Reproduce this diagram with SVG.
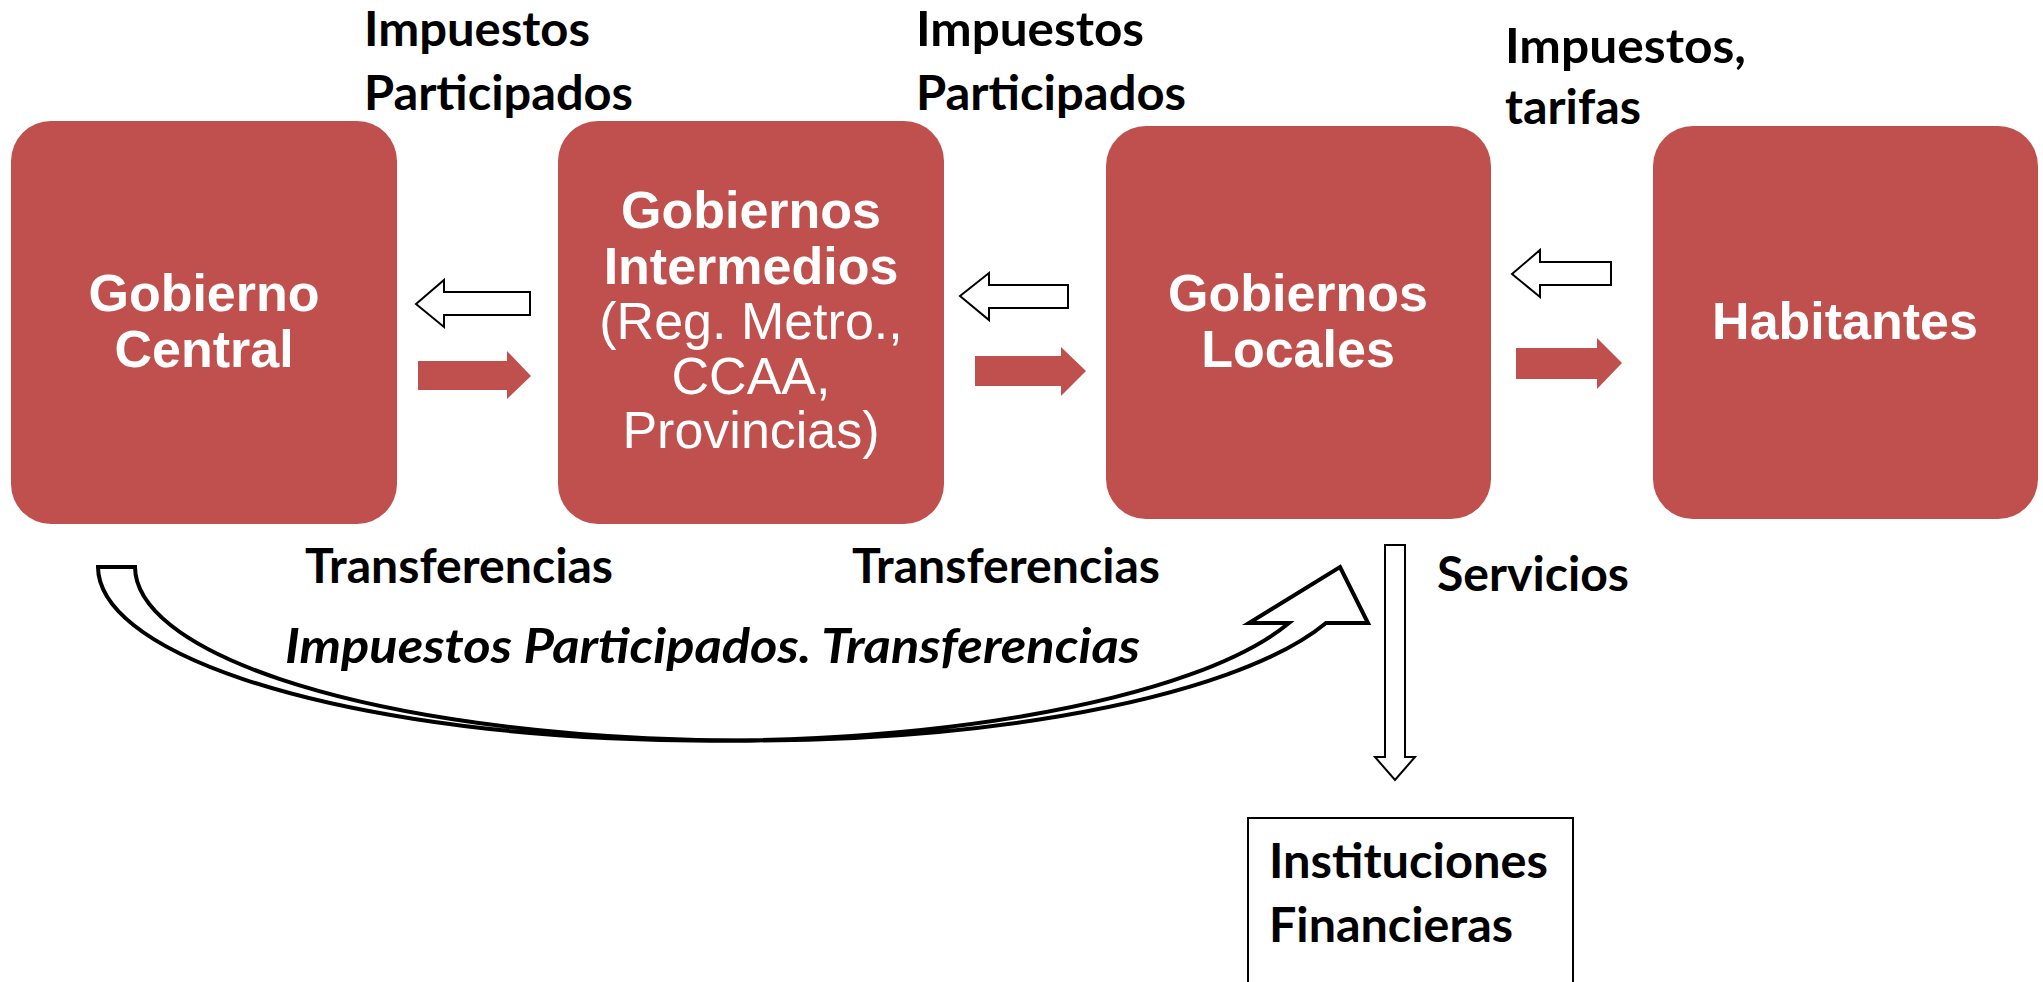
<svg xmlns="http://www.w3.org/2000/svg" width="2043" height="982" viewBox="0 0 2043 982">
<style>
.box{fill:#C0504D}
.bt{font-family:"Liberation Sans",Arial,sans-serif;font-size:52px;fill:#fff;text-anchor:middle}
.b{font-weight:bold}
.lbl{font-family:Lato,"Open Sans",sans-serif;font-weight:bold;font-size:47px;fill:#000}
.it{font-style:italic}
.hollow{fill:#fff;stroke:#000;stroke-width:2;stroke-linejoin:miter}
.solid{fill:#C0504D}
.curve{fill:#fff;stroke:#000;stroke-width:4;stroke-linejoin:miter}
</style>
<rect width="2043" height="982" fill="#fff"/>
<g id="gobierno-central">
<rect class="box" x="11" y="121" width="386" height="403" rx="40"/>
<text class="bt b" x="204" y="311">Gobierno</text>
<text class="bt b" x="204" y="367">Central</text>
</g>
<g id="gobiernos-intermedios">
<rect class="box" x="558" y="121" width="386" height="403" rx="40"/>
<text class="bt b" x="751" y="228">Gobiernos</text>
<text class="bt b" x="751" y="284">Intermedios</text>
<text class="bt" x="751" y="339">(Reg. Metro.,</text>
<text class="bt" x="751" y="394">CCAA,</text>
<text class="bt" x="751" y="448">Provincias)</text>
</g>
<g id="gobiernos-locales">
<rect class="box" x="1106" y="126" width="385" height="393" rx="40"/>
<text class="bt b" x="1298" y="311">Gobiernos</text>
<text class="bt b" x="1298" y="367">Locales</text>
</g>
<g id="habitantes">
<rect class="box" x="1653" y="126" width="385" height="393" rx="40"/>
<text class="bt b" x="1845" y="339">Habitantes</text>
</g>
<g id="instituciones-financieras">
<rect x="1248" y="818" width="325" height="180" fill="#fff" stroke="#000" stroke-width="2"/>
<text class="lbl" x="1269" y="878" textLength="279" lengthAdjust="spacingAndGlyphs">Instituciones</text>
<text class="lbl" x="1269" y="942" textLength="244" lengthAdjust="spacingAndGlyphs">Financieras</text>
</g>
<g id="connectors">
<polygon class="hollow" points="416,304 444,280 444,292 530,292 530,315 444,315 444,327"/>
<polygon class="solid" points="418,361 507,361 507,351 531,376 507,399 507,390 418,390"/>
<polygon class="hollow" points="960,296 989,273 989,285 1068,285 1068,308 989,308 989,320"/>
<polygon class="solid" points="975,356 1061,356 1061,347 1086,371 1061,396 1061,386 975,386"/>
<polygon class="hollow" points="1512,274 1540,250 1540,262 1611,262 1611,285 1540,285 1540,297"/>
<polygon class="solid" points="1516,348 1597,348 1597,338 1622,363 1597,389 1597,379 1516,379"/>
<polygon class="hollow" points="1385,545 1405,545 1405,757 1415,757 1395,780 1375,757 1385,757"/>
<path class="curve" d="M1340,567 L1368,623 L1326,623 A612,174 0 0 1 135,567 L98,567 A612,174 0 0 0 1289,623 L1249,623 Z"/>
</g>
<g id="labels">
<text class="lbl" x="364" y="46" textLength="226" lengthAdjust="spacingAndGlyphs">Impuestos</text>
<text class="lbl" x="364" y="110" textLength="269" lengthAdjust="spacingAndGlyphs">Participados</text>
<text class="lbl" x="916" y="46" textLength="228" lengthAdjust="spacingAndGlyphs">Impuestos</text>
<text class="lbl" x="916" y="110" textLength="270" lengthAdjust="spacingAndGlyphs">Participados</text>
<text class="lbl" x="1505" y="63" textLength="241" lengthAdjust="spacingAndGlyphs">Impuestos,</text>
<text class="lbl" x="1505" y="124" textLength="136" lengthAdjust="spacingAndGlyphs">tarifas</text>
<text class="lbl" x="305" y="583" textLength="308" lengthAdjust="spacingAndGlyphs">Transferencias</text>
<text class="lbl" x="852" y="583" textLength="308" lengthAdjust="spacingAndGlyphs">Transferencias</text>
<text class="lbl" x="1437" y="591" textLength="192" lengthAdjust="spacingAndGlyphs">Servicios</text>
<text class="lbl it" x="285" y="663" textLength="855" lengthAdjust="spacingAndGlyphs">Impuestos Participados. Transferencias</text>
</g>
</svg>
